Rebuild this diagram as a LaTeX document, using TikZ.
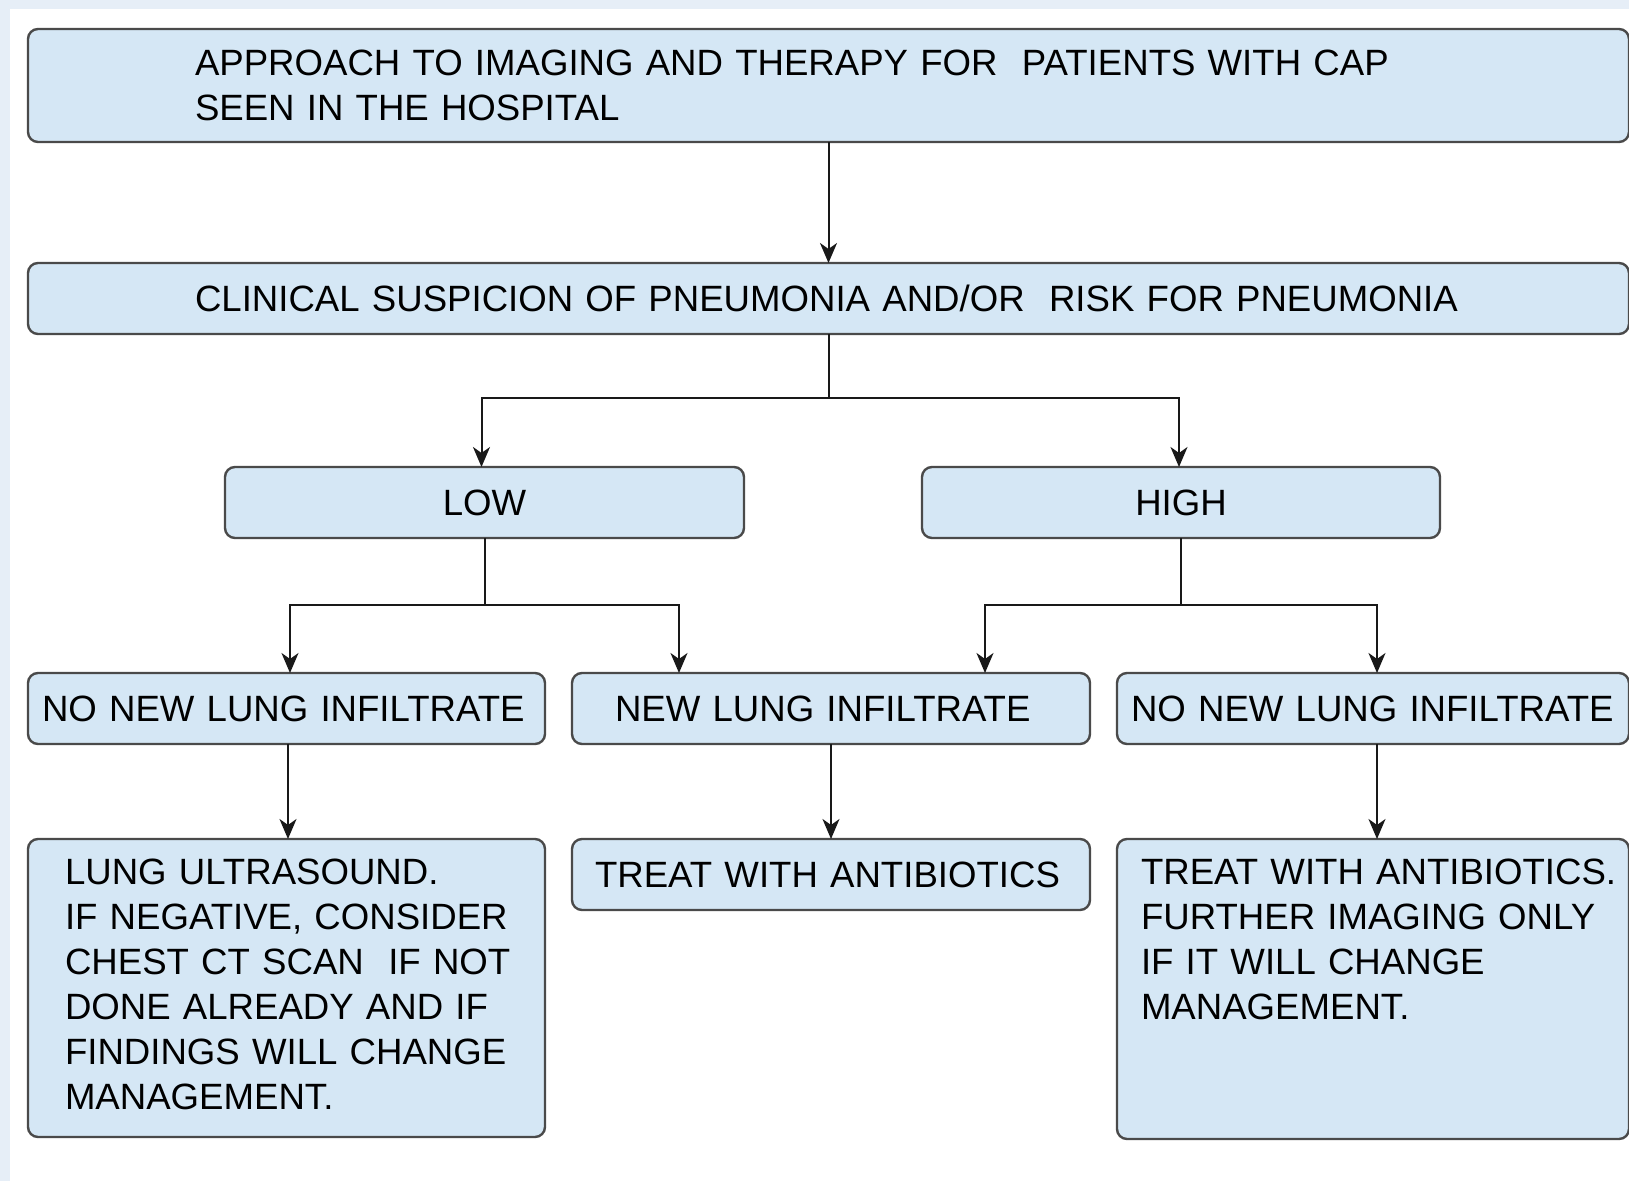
\documentclass[tikz,border=0pt]{standalone}
\usepackage{fontspec}
\setmainfont{Liberation Sans}
\usetikzlibrary{arrows.meta}
\definecolor{boxfill}{HTML}{D5E7F5}
\definecolor{boxline}{HTML}{4A4A4A}
\definecolor{pagetint}{HTML}{E6EEF7}

\begin{document}
\begin{tikzpicture}[x=1pt, y=-1pt,
  box/.style={draw=boxline, line width=1.2pt, fill=boxfill, rounded corners=5pt,
    anchor=north west, inner ysep=0pt, outer sep=0pt, minimum height=35.5pt,
    font=\fontsize{18.3pt}{22.5pt}\selectfont},
  wire/.style={line width=1pt, draw=black!90},
  arr/.style={wire, -{Stealth[length=10pt, width=8.5pt, inset=3pt]}}]

% page with a tinted margin strip on the left and top
\useasboundingbox (0,0) rectangle (814.5,590.5);
\fill[pagetint] (0,0) rectangle (814.5,590.5);
\fill[white] (5,4.5) rectangle (814.5,590.5);

% heading and question
\node[box, minimum width=800.5pt, minimum height=56.5pt, inner xsep=83.5pt,
      text width=633.5pt, align=left] (title) at (14,14.5)
  {\mbox{APPROACH TO IMAGING AND THERAPY FOR\ \ PATIENTS WITH CAP}\\
   \mbox{SEEN IN THE HOSPITAL}};
\node[box, minimum width=800.5pt, inner xsep=83.5pt,
      text width=633.5pt, align=left] (susp) at (14,131.5)
  {\mbox{CLINICAL SUSPICION OF PNEUMONIA AND/OR\ \ RISK FOR PNEUMONIA}};

% suspicion level
\node[box, minimum width=259.5pt, inner xsep=10pt, text width=239.5pt, align=center]
  (low) at (112.5,233.5) {LOW};
\node[box, minimum width=259pt, inner xsep=10pt, text width=239pt, align=center]
  (high) at (461,233.5) {HIGH};

% imaging findings
\node[box, minimum width=258.5pt, inner xsep=7pt, text width=244.5pt, align=left]
  (noinfA) at (14,336.5) {\mbox{NO NEW LUNG INFILTRATE}};
\node[box, minimum width=259pt, inner xsep=21.5pt, text width=216pt, align=left]
  (newinf) at (286,336.5) {\mbox{NEW LUNG INFILTRATE}};
\node[box, minimum width=256pt, inner xsep=7pt, text width=242pt, align=left]
  (noinfB) at (558.5,336.5) {\mbox{NO NEW LUNG INFILTRATE}};

% management
\node[box, minimum width=258.5pt, minimum height=149pt, inner xsep=18.5pt,
      text width=221.5pt, align=left, text height=22.6pt, text depth=126.4pt]
  (ultra) at (14,419.5)
  {\mbox{LUNG ULTRASOUND.}\\
   \mbox{IF NEGATIVE, CONSIDER}\\
   \mbox{CHEST CT SCAN\ \ IF NOT}\\
   \mbox{DONE ALREADY AND IF}\\
   \mbox{FINDINGS WILL CHANGE}\\
   \mbox{MANAGEMENT.}};
\node[box, minimum width=259pt, inner xsep=11.5pt, text width=236pt, align=left]
  (treat) at (286,419.5) {\mbox{TREAT WITH ANTIBIOTICS}};
\node[box, minimum width=256pt, minimum height=150pt, inner xsep=12pt,
      text width=232pt, align=left, text height=22.6pt, text depth=127.4pt]
  (treatimg) at (558.5,419.5)
  {\mbox{TREAT WITH ANTIBIOTICS.}\\
   \mbox{FURTHER IMAGING ONLY}\\
   \mbox{IF IT WILL CHANGE}\\
   \mbox{MANAGEMENT.}};

% branch points below each deciding box
\path (susp.south) ++(0,32) coordinate (split1);
\path (low.south) ++(0,33.5) coordinate (splitL);
\path (high.south) ++(0,33.5) coordinate (splitH);

% connectors
\draw[arr] (title.south) -- (susp.north);
\draw[wire] (susp.south) -- (split1);
\draw[arr] (split1) -| ([xshift=-1.5pt]low.north);
\draw[arr] (split1) -| ([xshift=-1pt]high.north);

\draw[wire] (low.south) -- (splitL);
\draw[arr] (splitL) -| ([xshift=1.75pt]noinfA.north);
\draw[arr] (splitL) -| ([xshift=-76pt]newinf.north);

\draw[wire] (high.south) -- (splitH);
\draw[arr] (splitH) -| ([xshift=77pt]newinf.north);
\draw[arr] (splitH) -| ([xshift=2pt]noinfB.north);

\draw[arr] ([xshift=0.75pt]noinfA.south) -- ([xshift=0.75pt]ultra.north);
\draw[arr] (newinf.south) -- (treat.north);
\draw[arr] ([xshift=2pt]noinfB.south) -- ([xshift=2pt]treatimg.north);
\end{tikzpicture}
\end{document}
